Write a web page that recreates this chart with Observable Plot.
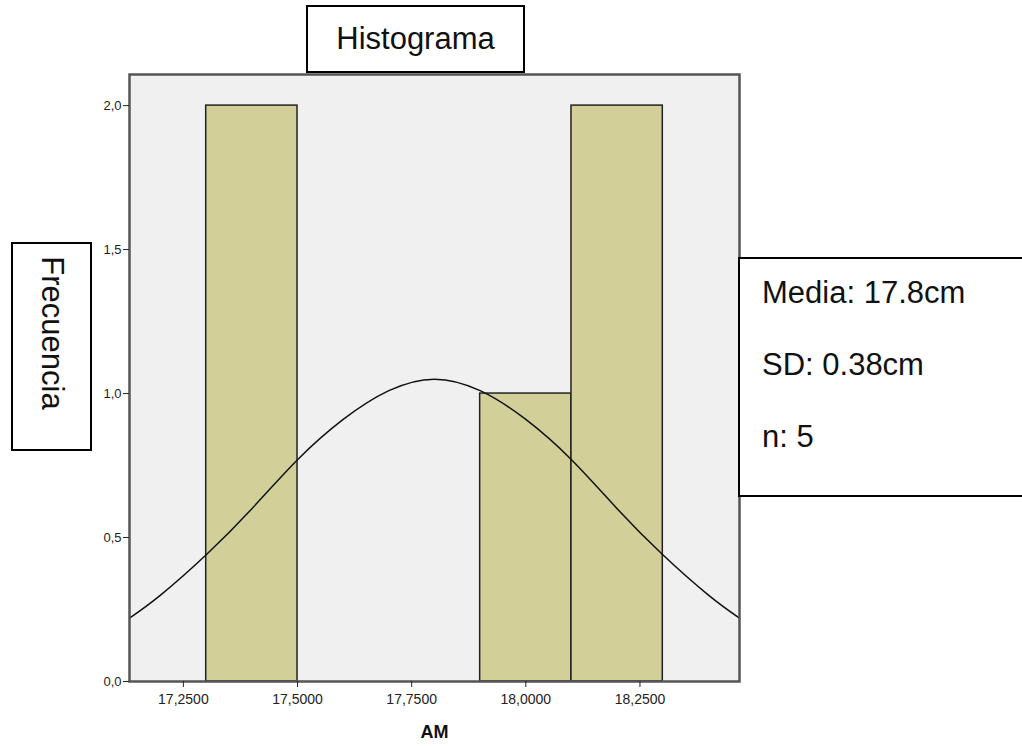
<!DOCTYPE html>
<html>
<head>
<meta charset="utf-8">
<script src="https://cdn.jsdelivr.net/npm/d3@7"></script>
<script src="https://cdn.jsdelivr.net/npm/@observablehq/plot@0.6"></script>
<style>
  body { margin: 0; background: #fff; font-family: "Liberation Sans", Arial, sans-serif; }
  #wrap { position: relative; width: 1022px; height: 747px; overflow: hidden; }
  .box { position: absolute; border: 2px solid #000; background: #fff; box-sizing: border-box; color: #111; font-size: 31px; }
  #title { left: 306px; top: 5px; width: 219px; height: 68px; display: flex; align-items: center; justify-content: center; }
  #ylab { left: 11px; top: 242px; width: 81px; height: 209px; }
  #ylab span { position: absolute; left: 50%; top: 50%; transform: translate(-50%, -50%) translateY(-14px) rotate(90deg); white-space: nowrap; }
  #stats { left: 738px; top: 257px; width: 300px; height: 240px; }
  #stats div { position: absolute; left: 22px; }
  svg { position: absolute; left: 0; top: 0; }
</style>
</head>
<body>
<div id="wrap"></div>
<script>
// Histogram bins (AM, cm)
const binStart = [17.3, 17.9, 18.1];
const binEnd   = [17.5, 18.1, 18.3];
const counts   = [2, 1, 2];

// Normal curve
const curveX = [17.132, 17.2, 17.3, 17.4, 17.5, 17.6, 17.7, 17.8, 17.9, 18.0, 18.1, 18.2, 18.3, 18.4, 18.468];
const curveY = [0.22, 0.30, 0.44, 0.60, 0.77, 0.91, 1.01, 1.05, 1.01, 0.91, 0.77, 0.60, 0.44, 0.30, 0.22];

const xTicks = [17.25, 17.5, 17.75, 18.0, 18.25];
const yTicks = [0, 0.5, 1.0, 1.5, 2.0];

const titleText = "Histograma";
const yLabel = "Frecuencia";
const xLabel = "AM";
const statsLines = ["Media: 17.8cm", "SD: 0.38cm", "n: 5"];

const bars = binStart.map((s, i) => ({x1: s, x2: binEnd[i], y: counts[i]}));
const curve = curveX.map((x, i) => ({x, y: curveY[i]}));

const fmtX = d => d.toFixed(4).replace(".", ",");
const fmtY = d => d.toFixed(1).replace(".", ",");

const chart = Plot.plot({
  width: 1022,
  height: 747,
  marginLeft: 129,
  marginRight: 283,
  marginTop: 74,
  marginBottom: 66,
  style: { fontFamily: "Liberation Sans, Arial, sans-serif", fontSize: "12px", color: "#222", background: "transparent" },
  x: { domain: [17.132, 18.468], ticks: xTicks, tickFormat: fmtX, label: null },
  y: { domain: [0, 2.108], ticks: yTicks, tickFormat: fmtY, label: null },
  marks: [
    Plot.frame({ fill: "#f0f0f0", stroke: null }),
    Plot.rectY(bars, { x1: "x1", x2: "x2", y: "y", fill: "#d3cf98", stroke: "#222", strokeWidth: 1.5 }),
    Plot.line(curve, { x: "x", y: "y", curve: "natural", stroke: "#111", strokeWidth: 1.5 }),
    Plot.frame({ stroke: "#555", strokeWidth: 2.5 }),
    Plot.axisX({ ticks: xTicks, tickFormat: fmtX, tickSize: 6, tickPadding: 7, label: null, fontSize: 14, stroke: "#222", fill: "#222" }),
    Plot.axisY({ ticks: yTicks, tickFormat: fmtY, tickSize: 6, tickPadding: 2, label: null, fontSize: 13, stroke: "#222", fill: "#222" }),
    Plot.text([xLabel], { frameAnchor: "bottom", dy: 56, text: d => d, fontSize: 18, fontWeight: "bold", fill: "#111" })
  ]
});

const wrap = document.getElementById("wrap");
wrap.appendChild(chart);

const t = document.createElement("div");
t.className = "box"; t.id = "title"; t.textContent = titleText;
wrap.appendChild(t);

const yl = document.createElement("div");
yl.className = "box"; yl.id = "ylab";
const ys = document.createElement("span"); ys.textContent = yLabel; yl.appendChild(ys);
wrap.appendChild(yl);

const st = document.createElement("div");
st.className = "box"; st.id = "stats";
statsLines.forEach((s, i) => {
  const d = document.createElement("div");
  d.textContent = s;
  d.style.top = (16 + i * 72) + "px";
  st.appendChild(d);
});
wrap.appendChild(st);
</script>
</body>
</html>
